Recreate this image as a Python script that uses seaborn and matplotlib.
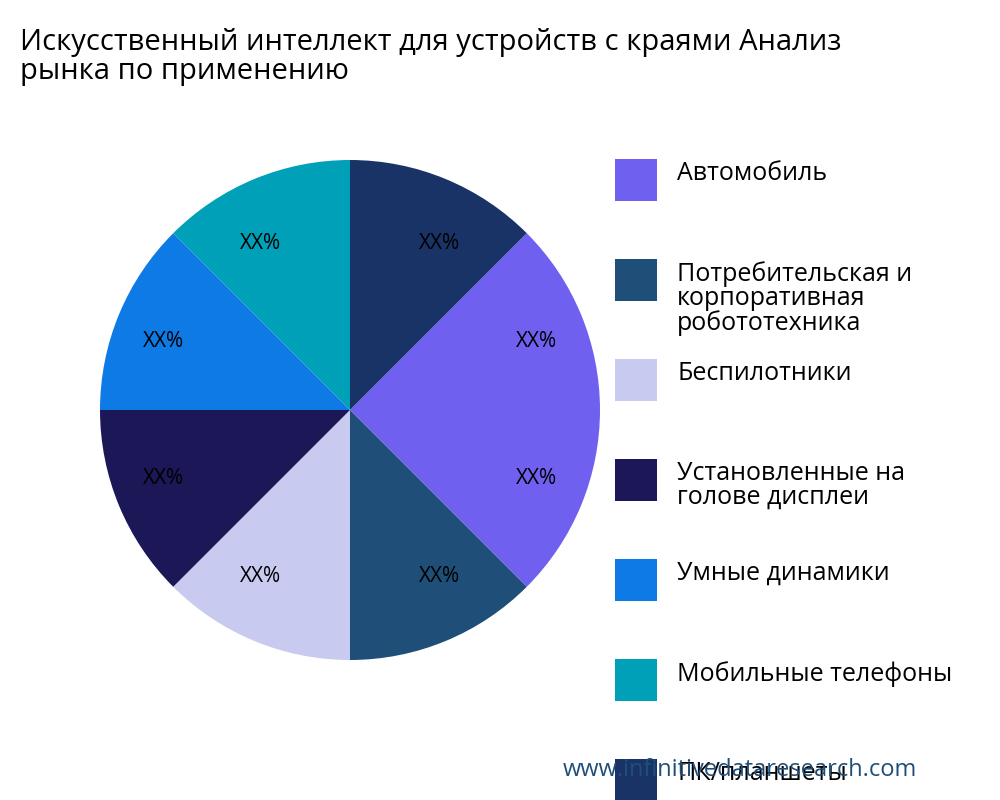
import matplotlib
matplotlib.use('Agg')
import matplotlib.pyplot as plt
import seaborn as sns
from matplotlib.patches import Rectangle

sns.set_theme(style='white')
plt.rcParams['font.family'] = ['Open Sans', 'DejaVu Sans']

TITLE = 'Искусственный интеллект для устройств с краями Анализ\nрынка по применению'
categories = ['Автомобиль', 'Потребительская и\nкорпоративная\nробототехника', 'Беспилотники',
              'Установленные на\nголове дисплеи', 'Умные динамики', 'Мобильные телефоны',
              'ПК/планшеты']
colors = ['#7060f0', '#1f4e79', '#c8caf0', '#1c1858', '#0e7ae6', '#00a0b8', '#1a3366']
# the automobile share is drawn as two equal wedges, each with its own label
values = [12.5, 12.5, 12.5, 12.5, 12.5, 12.5, 12.5, 12.5]
wedge_cat = [0, 0, 1, 2, 3, 4, 5, 6]
labels = ['XX%'] * len(values)

fig = plt.figure(figsize=(10, 8), dpi=100)
ax = fig.add_axes([0.1, 0.175, 0.5, 0.625])
ax.pie(values, colors=[colors[i] for i in wedge_cat], startangle=45, counterclock=False,
       labels=labels, labeldistance=0.72, textprops={'fontsize': 15, 'color': 'black'},
       wedgeprops={'linewidth': 0})
ax.set_xlim(-1, 1)
ax.set_ylim(-1, 1)
ax.set_aspect('equal')

fig.text(0.02, 0.965, TITLE, fontsize=21, ha='left', va='top', linespacing=1.0, color='black')

for i, cat in enumerate(categories):
    yc = 180 + 100 * i
    fig.add_artist(Rectangle((615 / 1000, 1 - (yc + 21) / 800), 42 / 1000, 42 / 800,
                             transform=fig.transFigure, color=colors[i], lw=0))
    fig.text(677 / 1000, 1 - (yc - 19) / 800, cat, fontsize=18, ha='left', va='top',
             linespacing=0.95, color='black')

fig.text(0.74, 0.037, 'www.infinitivedataresearch.com', fontsize=17, color='#1f4e79',
         ha='center', va='center')

fig.savefig('out.png', dpi=100)
